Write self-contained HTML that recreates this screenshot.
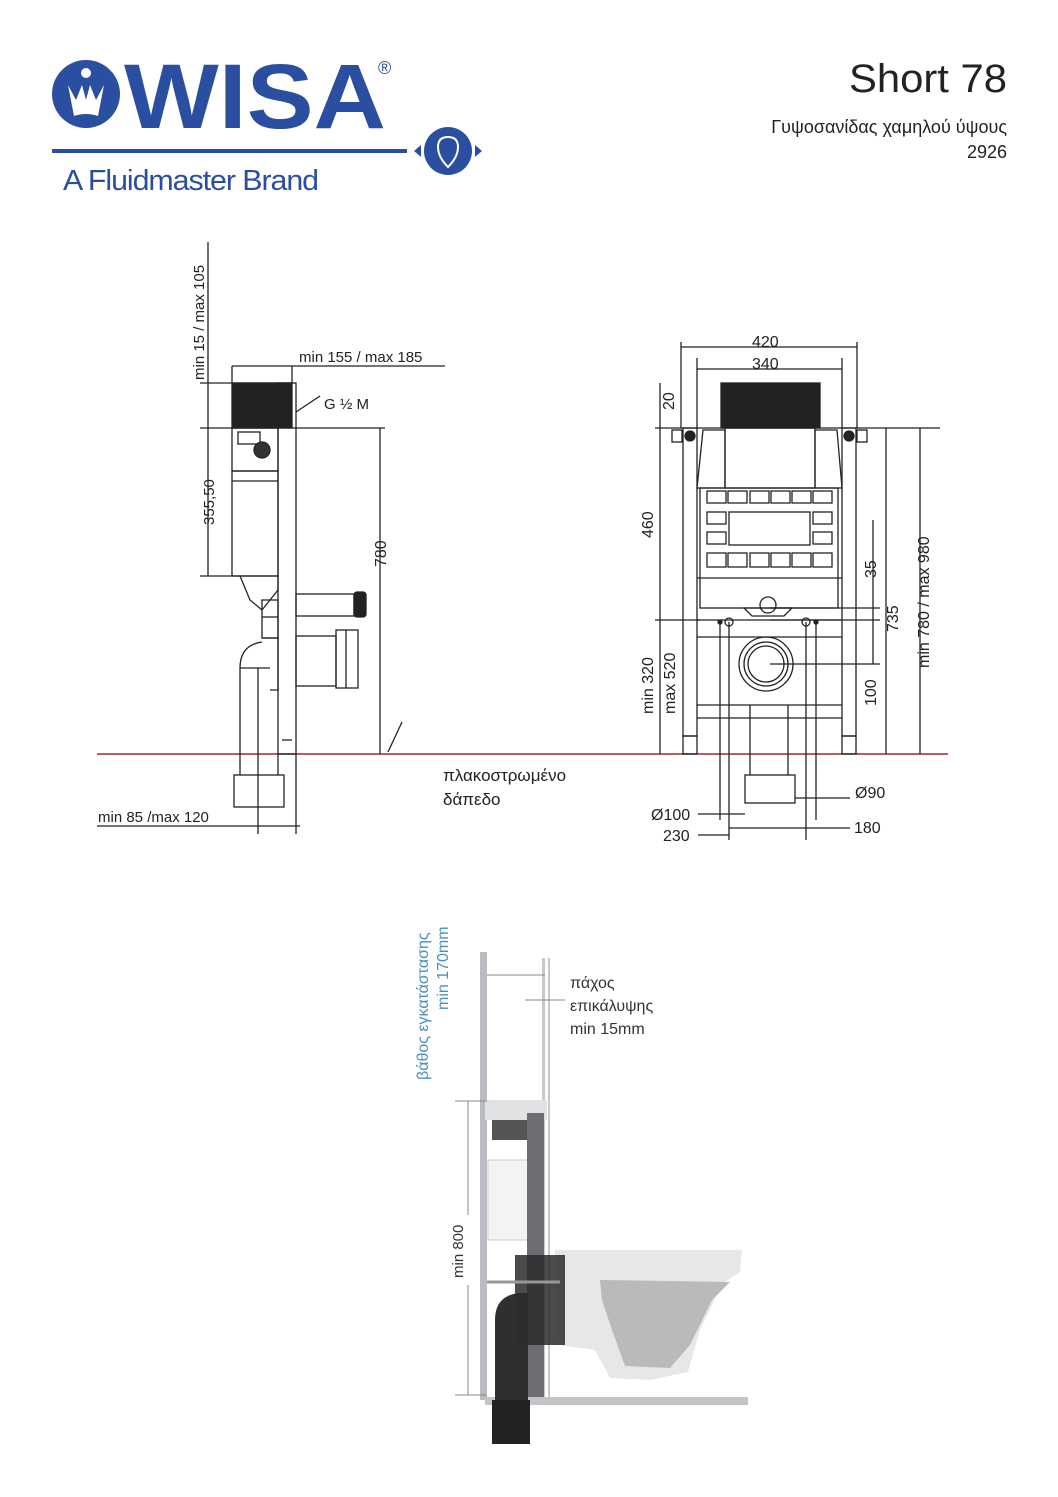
<!DOCTYPE html>
<html><head><meta charset="utf-8"><style>
html,body{margin:0;padding:0;background:#fff;}
svg{display:block;}
text{font-family:"Liberation Sans",sans-serif;}
</style></head><body>
<svg width="1058" height="1497" viewBox="0 0 1058 1497" xmlns="http://www.w3.org/2000/svg">
<!-- Logo -->
<g fill="#2b4fa0">
<circle cx="86" cy="94" r="34"/>
<text x="124" y="128" font-size="92" font-weight="bold" textLength="262" lengthAdjust="spacingAndGlyphs">WISA</text>
<text x="378" y="74" font-size="18">®</text>
<rect x="52" y="149" width="355" height="4"/>
<circle cx="448" cy="151" r="24"/>
<polygon points="414,151 421,145 421,157"/><polygon points="482,151 475,145 475,157"/>
<text x="63" y="190" font-size="29" textLength="255" lengthAdjust="spacingAndGlyphs" letter-spacing="-1">A Fluidmaster Brand</text>
</g>
<path d="M68 85 L74 116 Q86 112 98 116 L104 85 L96 100 L90 85 L86 100 L82 85 L76 100 Z" fill="#fff"/>
<circle cx="86" cy="73" r="5" fill="#fff"/>
<path d="M448 137 q-10 0 -10 10 q0 10 10 20 q10 -10 10 -20 q0 -10 -10 -10" fill="none" stroke="#fff" stroke-width="2"/>

<!-- Header right -->
<text x="1007" y="92" font-size="40" text-anchor="end" font-family="DejaVu Sans" fill="#222" textLength="158" lengthAdjust="spacingAndGlyphs">Short 78</text>
<text x="1007" y="133" font-size="18" text-anchor="end" font-family="DejaVu Sans" fill="#222">Γυψοσανίδας χαμηλού ύψους</text>
<text x="1007" y="158" font-size="18" text-anchor="end" font-family="DejaVu Sans" fill="#222">2926</text>

<!-- floor line -->
<line x1="97" y1="754" x2="948" y2="754" stroke="#a02828" stroke-width="1.5"/>

<!-- SIDE VIEW -->
<g stroke="#222" stroke-width="1.3" fill="none">
<line x1="208" y1="242" x2="208" y2="576"/>
<line x1="200" y1="383" x2="292" y2="383"/>
<line x1="200" y1="428" x2="385" y2="428"/>
<line x1="200" y1="576" x2="240" y2="576"/>
<line x1="232" y1="366" x2="232" y2="383"/><line x1="292" y1="366" x2="292" y2="383"/>
<line x1="232" y1="366" x2="445" y2="366"/>
<line x1="380" y1="428" x2="380" y2="754"/>
<line x1="388" y1="752" x2="402" y2="722"/>
<line x1="296" y1="412" x2="320" y2="396" />
<rect x="278" y="383" width="18" height="371"/>
<line x1="282" y1="740" x2="292" y2="740"/>
<rect x="232" y="383" width="60" height="45" fill="#222"/>
<rect x="232" y="428" width="46" height="43"/>
<rect x="238" y="432" width="22" height="12" />
<circle cx="262" cy="450" r="8" fill="#333"/>
<rect x="232" y="471" width="46" height="105"/>
<line x1="232" y1="481" x2="278" y2="481"/>
<path d="M240 576 L278 576 L278 590 L262 610 L250 600 Z"/>
<rect x="262" y="600" width="16" height="38"/>
<line x1="262" y1="617" x2="278" y2="617"/>
<path d="M262 638 L278 638 L278 690 L270 690"/>
<path d="M240 754 L240 668 Q240 645 262 642"/>
<path d="M258 754 L258 668"/>
<line x1="240" y1="668" x2="270" y2="668"/>
<rect x="234" y="775" width="50" height="32"/>
<line x1="240" y1="754" x2="240" y2="775"/><line x1="278" y1="754" x2="278" y2="775"/>
<rect x="296" y="594" width="58" height="22"/>
<rect x="354" y="592" width="12" height="25" rx="3" fill="#222"/>
<rect x="296" y="636" width="40" height="50"/>
<rect x="336" y="630" width="22" height="58"/>
<line x1="346" y1="630" x2="346" y2="688"/>
<line x1="258" y1="754" x2="258" y2="834"/><line x1="296" y1="754" x2="296" y2="834"/>
<line x1="97" y1="826" x2="300" y2="826"/>
</g>
<g font-size="15" fill="#222">
<text transform="translate(204,380) rotate(-90)">min 15 / max 105</text>
<text x="299" y="362">min 155 / max 185</text>
<text x="324" y="409">G ½ M</text>
<text transform="translate(214,525) rotate(-90)">355,50</text>
<text transform="translate(386,567) rotate(-90)" font-size="16">780</text>
<text x="98" y="822">min 85 /max 120</text>
<text x="443" y="781" font-size="17">πλακοστρωμένο</text>
<text x="443" y="805" font-size="17">δάπεδο</text>
</g>

<!-- FRONT VIEW -->
<g stroke="#222" stroke-width="1.3" fill="none">
<line x1="681" y1="342" x2="681" y2="428"/><line x1="857" y1="342" x2="857" y2="428"/>
<line x1="681" y1="347" x2="857" y2="347"/>
<line x1="697" y1="358" x2="697" y2="428"/><line x1="842" y1="358" x2="842" y2="428"/>
<line x1="697" y1="369" x2="842" y2="369"/>
<line x1="655" y1="428" x2="940" y2="428"/>
<line x1="655" y1="620" x2="700" y2="620"/>
<line x1="660" y1="383" x2="660" y2="754"/>
<line x1="920" y1="428" x2="920" y2="754"/>
<line x1="886" y1="428" x2="886" y2="754"/>
<line x1="770" y1="608" x2="880" y2="608"/>
<line x1="770" y1="620" x2="880" y2="620"/>
<line x1="770" y1="664" x2="880" y2="664"/>
<line x1="873" y1="520" x2="873" y2="664"/>
<rect x="683" y="428" width="14" height="308"/><rect x="842" y="428" width="14" height="308"/>
<rect x="683" y="736" width="14" height="18"/><rect x="842" y="736" width="14" height="18"/>
<rect x="672" y="430" width="10" height="12"/><rect x="857" y="430" width="10" height="12"/>
<circle cx="690" cy="436" r="5" fill="#222"/><circle cx="849" cy="436" r="5" fill="#222"/>
<rect x="721" y="383" width="99" height="45" fill="#222"/>
<path d="M703 430 L725 430 L725 488 L697 488 Z"/>
<path d="M837 430 L815 430 L815 488 L842 488 Z"/>
<rect x="725" y="428" width="90" height="60"/>
<rect x="700" y="488" width="138" height="120"/>
<g>
<rect x="707" y="491" width="19" height="12"/><rect x="728" y="491" width="19" height="12"/><rect x="750" y="491" width="19" height="12"/><rect x="771" y="491" width="19" height="12"/><rect x="792" y="491" width="19" height="12"/><rect x="813" y="491" width="19" height="12"/>
<rect x="707" y="512" width="19" height="12"/><rect x="729" y="512" width="81" height="33"/><rect x="813" y="512" width="19" height="12"/>
<rect x="707" y="532" width="19" height="12"/><rect x="813" y="532" width="19" height="12"/>
<rect x="707" y="553" width="19" height="14"/><rect x="728" y="553" width="19" height="14"/><rect x="750" y="553" width="19" height="14"/><rect x="771" y="553" width="19" height="14"/><rect x="792" y="553" width="19" height="14"/><rect x="813" y="553" width="19" height="14"/>
</g>
<line x1="697" y1="578" x2="842" y2="578"/>
<line x1="697" y1="620" x2="842" y2="620"/>
<line x1="697" y1="637" x2="842" y2="637"/>
<line x1="697" y1="705" x2="842" y2="705"/>
<line x1="697" y1="718" x2="842" y2="718"/>
<circle cx="768" cy="605" r="8"/>
<path d="M744 608 L792 608 L784 616 L752 616 Z"/>
<circle cx="766" cy="664" r="27"/><circle cx="766" cy="664" r="22"/><circle cx="766" cy="664" r="18"/>
<circle cx="720" cy="622" r="2" fill="#222"/><circle cx="729" cy="622" r="4"/><circle cx="806" cy="622" r="4"/><circle cx="816" cy="622" r="2" fill="#222"/>
<line x1="720" y1="622" x2="720" y2="820"/><line x1="729" y1="622" x2="729" y2="840"/>
<line x1="806" y1="622" x2="806" y2="840"/><line x1="816" y1="622" x2="816" y2="820"/>
<line x1="750" y1="705" x2="750" y2="775"/><line x1="788" y1="705" x2="788" y2="775"/>
<rect x="745" y="775" width="50" height="28"/>
<line x1="698" y1="814" x2="745" y2="814"/><line x1="795" y1="798" x2="850" y2="798"/>
<line x1="698" y1="835" x2="729" y2="835"/><line x1="729" y1="828" x2="850" y2="828"/>
</g>
<g font-size="16" fill="#222">
<text x="752" y="347">420</text>
<text x="752" y="369">340</text>
<text transform="translate(674,410) rotate(-90)">20</text>
<text transform="translate(653,538) rotate(-90)">460</text>
<text transform="translate(653,714) rotate(-90)">min 320</text>
<text transform="translate(675,714) rotate(-90)">max 520</text>
<text transform="translate(876,578) rotate(-90)">35</text>
<text transform="translate(898,632) rotate(-90)">735</text>
<text transform="translate(876,706) rotate(-90)">100</text>
<text transform="translate(929,668) rotate(-90)">min 780 / max 980</text>
<text x="855" y="798">Ø90</text>
<text x="651" y="820">Ø100</text>
<text x="663" y="841">230</text>
<text x="854" y="833">180</text>
</g>

<!-- PHOTO -->
<g>
<rect x="480" y="952" width="7" height="448" fill="#b9bcc0"/>
<rect x="542" y="958" width="3" height="440" fill="#c6c8ca"/>
<rect x="548" y="958" width="2" height="440" fill="#c6c8ca"/>
<rect x="485" y="1100" width="62" height="20" fill="#e1e2e4"/>
<rect x="492" y="1120" width="35" height="20" fill="#555"/>
<rect x="488" y="1160" width="40" height="80" fill="#f3f3f3" stroke="#ccc"/>
<rect x="527" y="1113" width="17" height="288" fill="#6c6e72"/>
<rect x="485" y="1397" width="263" height="8" fill="#c2c4c6"/>
<path d="M555 1250 L742 1250 L740 1272 L722 1284 L700 1330 L688 1372 L650 1380 L610 1378 L595 1350 L560 1345 L555 1300 Z" fill="#e6e7e8"/>
<path d="M600 1280 L730 1282 L712 1300 L690 1345 L670 1368 L625 1366 L612 1330 L602 1300 Z" fill="#b9babc"/>
<path d="M495 1440 L495 1320 Q495 1295 520 1293 L528 1293 L528 1440 Z" fill="#2e2f31"/>
<rect x="492" y="1400" width="38" height="44" fill="#222"/>
<rect x="515" y="1255" width="50" height="90" fill="#2a2b2d" opacity="0.85"/>
</g>
<g stroke="#888" stroke-width="1" fill="none">
<line x1="487" y1="975" x2="545" y2="975"/>
<line x1="525" y1="1000" x2="565" y2="1000"/>
<line x1="455" y1="1101" x2="487" y2="1101"/>
<line x1="455" y1="1395" x2="487" y2="1395"/>
<line x1="468" y1="1101" x2="468" y2="1215"/><line x1="468" y1="1285" x2="468" y2="1395"/>
<line x1="487" y1="1282" x2="560" y2="1282" stroke="#999" stroke-width="3"/>
</g>
<text transform="translate(428,1080) rotate(-90)" font-size="16" fill="#4a8fc0" font-family="DejaVu Sans">βάθος εγκατάστασης</text>
<text transform="translate(448,1010) rotate(-90)" font-size="16" fill="#4a8fc0" font-family="DejaVu Sans">min 170mm</text>
<text x="570" y="988" font-size="16" fill="#333" font-family="DejaVu Sans">πάχος</text>
<text x="570" y="1011" font-size="16" fill="#333" font-family="DejaVu Sans">επικάλυψης</text>
<text x="570" y="1034" font-size="16" fill="#333" font-family="DejaVu Sans">min 15mm</text>
<text transform="translate(463,1278) rotate(-90)" font-size="15" fill="#333" font-family="DejaVu Sans">min 800</text>
</svg>
</body></html>
